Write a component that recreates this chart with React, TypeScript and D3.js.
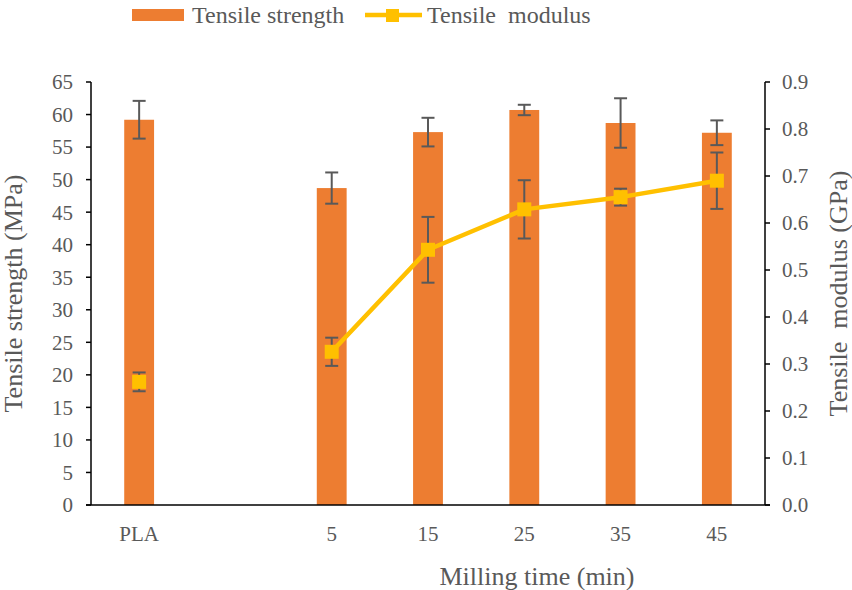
import React from "react";
import * as d3 from "d3";

const categories = ["PLA", " ", "5", "15", "25", "35", "45"];
const strength: (number | null)[] = [59.2, null, 48.7, 57.3, 60.7, 58.7, 57.2];
const strengthErr: (number | null)[] = [2.9, null, 2.4, 2.2, 0.8, 3.8, 1.9];
const modulus: (number | null)[] = [0.262, null, 0.326, 0.543, 0.629, 0.655, 0.69];
const modulusErr: (number | null)[] = [0.02, null, 0.03, 0.07, 0.062, 0.018, 0.06];
const leftTicks = d3.range(0, 66, 5);
const rightTicks = d3.range(0, 10).map((d) => d / 10);

const W = 852;
const H = 590;
const M = { left: 91, right: 765, top: 82, bottom: 505 };
const FONT = "Liberation Serif, DejaVu Serif, serif";
const TXT = "#595959";
const BAR = "#ED7D31";
const LINE = "#FFC000";

export default function App() {
  const x = d3
    .scaleBand<string>()
    .domain(categories)
    .range([M.left, M.right])
    .paddingInner(0.69)
    .paddingOuter(0.345);
  const yL = d3.scaleLinear().domain([0, 65]).range([M.bottom, M.top]);
  const yR = d3.scaleLinear().domain([0, 0.9]).range([M.bottom, M.top]);
  const cx = (c: string) => (x(c) as number) + x.bandwidth() / 2;

  const pts = categories.map((c, i) => ({ c, v: modulus[i] }));
  const lineGen = d3
    .line<{ c: string; v: number | null }>()
    .defined((d) => d.v !== null)
    .x((d) => cx(d.c))
    .y((d) => yR(d.v as number));

  const cap = 6.5;
  const ms = 14;
  const ts = { fontFamily: FONT };

  return (
    <svg
      width={W}
      height={H}
      style={{ position: "absolute", left: 0, top: 0, background: "#fff" }}
    >
      {/* legend */}
      <rect x={132} y={9} width={52} height={12} fill={BAR} />
      <text x={192} y={23} fontSize={24} fill={TXT} style={ts}>Tensile strength</text>
      <line x1={365} x2={422} y1={15} y2={15} stroke={LINE} strokeWidth={4.5} />
      <rect x={386} y={9} width={13} height={13} fill={LINE} />
      <text x={427} y={23} fontSize={24} fill={TXT} style={{ ...ts, whiteSpace: "pre" }}>
        {"Tensile  modulus"}
      </text>

      {/* bars */}
      {categories.map((c, i) =>
        strength[i] === null ? null : (
          <rect
            key={"b" + c}
            x={x(c)}
            y={yL(strength[i] as number)}
            width={x.bandwidth()}
            height={M.bottom - yL(strength[i] as number)}
            fill={BAR}
          />
        )
      )}
      {/* strength error bars */}
      {categories.map((c, i) => {
        if (strength[i] === null) return null;
        const v = strength[i] as number;
        const e = strengthErr[i] as number;
        const X = cx(c);
        return (
          <g key={"se" + c} stroke="#595959" strokeWidth={2}>
            <line x1={X} x2={X} y1={yL(v + e)} y2={yL(v - e)} />
            <line x1={X - cap} x2={X + cap} y1={yL(v + e)} y2={yL(v + e)} />
            <line x1={X - cap} x2={X + cap} y1={yL(v - e)} y2={yL(v - e)} />
          </g>
        );
      })}

      {/* modulus line */}
      <path d={lineGen(pts) || ""} fill="none" stroke={LINE} strokeWidth={4.5} strokeLinejoin="round" />
      {categories.map((c, i) => {
        if (modulus[i] === null) return null;
        const v = modulus[i] as number;
        const e = modulusErr[i] as number;
        const X = cx(c);
        return (
          <g key={"me" + c} stroke="#595959" strokeWidth={2}>
            <line x1={X} x2={X} y1={yR(v + e)} y2={yR(v - e)} />
            <line x1={X - cap} x2={X + cap} y1={yR(v + e)} y2={yR(v + e)} />
            <line x1={X - cap} x2={X + cap} y1={yR(v - e)} y2={yR(v - e)} />
          </g>
        );
      })}
      {categories.map((c, i) =>
        modulus[i] === null ? null : (
          <rect
            key={"m" + c}
            x={cx(c) - ms / 2}
            y={yR(modulus[i] as number) - ms / 2}
            width={ms}
            height={ms}
            fill={LINE}
          />
        )
      )}

      {/* axes */}
      <line x1={M.left} x2={M.left} y1={M.top} y2={M.bottom} stroke="#000" strokeWidth={1.5} />
      <line x1={M.right} x2={M.right} y1={M.top} y2={M.bottom} stroke="#000" strokeWidth={1.5} />
      <line x1={M.left - 5} x2={M.right + 5} y1={M.bottom} y2={M.bottom} stroke="#000" strokeWidth={1.5} />
      {leftTicks.map((t) => (
        <g key={"lt" + t}>
          <line x1={M.left - 5} x2={M.left} y1={yL(t)} y2={yL(t)} stroke="#000" strokeWidth={1.5} />
          <text x={73} y={yL(t)} dy="0.35em" textAnchor="end" fontSize={21} fill={TXT} style={ts}>
            {t}
          </text>
        </g>
      ))}
      {rightTicks.map((t) => (
        <g key={"rt" + t}>
          <line x1={M.right} x2={M.right + 5} y1={yR(t)} y2={yR(t)} stroke="#000" strokeWidth={1.5} />
          <text x={782} y={yR(t)} dy="0.35em" textAnchor="start" fontSize={21} fill={TXT} style={ts}>
            {d3.format(".1f")(t)}
          </text>
        </g>
      ))}
      {categories.map((c) => (
        <text key={"xt" + c} x={cx(c)} y={541} textAnchor="middle" fontSize={21} fill={TXT} style={ts}>
          {c.trim()}
        </text>
      ))}

      {/* axis titles */}
      <text x={537} y={585} textAnchor="middle" fontSize={26} fill={TXT} style={ts}>Milling time (min)</text>
      <text
        transform={`translate(22, ${(M.top + M.bottom) / 2}) rotate(-90)`}
        textAnchor="middle"
        fontSize={26}
        fill={TXT}
        style={ts}
      >
        Tensile strength (MPa)
      </text>
      <text
        transform={`translate(847, ${(M.top + M.bottom) / 2}) rotate(-90)`}
        textAnchor="middle"
        fontSize={26}
        fill={TXT}
        style={{ ...ts, whiteSpace: "pre" }}
      >
        {"Tensile  modulus (GPa)"}
      </text>
    </svg>
  );
}
